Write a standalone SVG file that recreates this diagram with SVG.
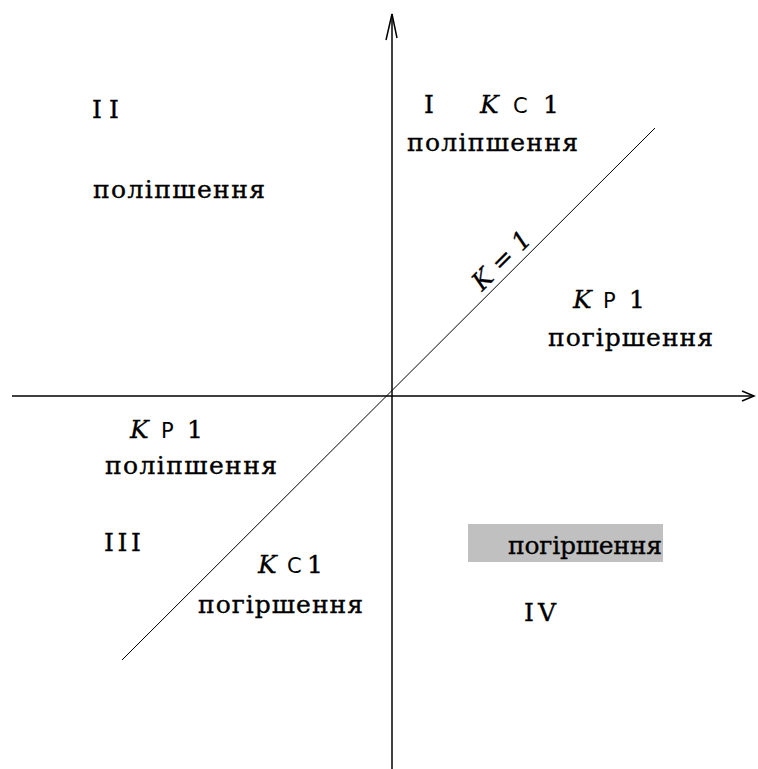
<svg xmlns="http://www.w3.org/2000/svg" width="758" height="769" viewBox="0 0 758 769">
<style>
.t{font-family:"DejaVu Serif","Liberation Serif",serif;font-size:25px;fill:#000;stroke:#000;stroke-width:0.35}
.k{font-family:"DejaVu Serif","Liberation Serif",serif;font-style:italic;font-size:25px;fill:#000;stroke:#000;stroke-width:0.3}
.s{font-family:"DejaVu Sans","Liberation Sans",sans-serif;font-size:21px;fill:#000}
.ax{stroke:#000;stroke-width:1.5;fill:none}
</style>
<rect width="758" height="769" fill="#fff"/>
<g id="connectors">
<line class="ax" x1="392" y1="769" x2="392" y2="14"/>
<polyline class="ax" points="386,40 392,14 397,38"/>
<line class="ax" x1="12" y1="396" x2="754" y2="396"/>
<polyline class="ax" points="742,391 754,396 742,401"/>
<line stroke="#000" stroke-width="1" x1="122" y1="660" x2="655" y2="128"/>
</g>
<g id="q2">
<text class="t" x="92" y="118" textLength="27">II</text>
<text class="t" x="93" y="198" textLength="172">поліпшення</text>
</g>
<g id="q1">
<text class="t" x="424" y="113">I</text>
<text class="k" x="480" y="113">K</text>
<text class="s" x="513" y="113">С</text>
<text class="t" x="543" y="113">1</text>
<text class="t" x="407" y="151" textLength="171">поліпшення</text>
</g>
<g id="k1">
<text class="k" transform="translate(482,292) rotate(-45)" textLength="72">K = 1</text>
</g>
<g id="q1b">
<text class="k" x="573" y="308">K</text>
<text class="s" x="603" y="308">Р</text>
<text class="t" x="629" y="308">1</text>
<text class="t" x="548" y="346" textLength="165">погіршення</text>
</g>
<g id="q3a">
<text class="k" x="130" y="438">K</text>
<text class="s" x="161" y="438">Р</text>
<text class="t" x="187" y="438">1</text>
<text class="t" x="105" y="474" textLength="172">поліпшення</text>
</g>
<g id="q3">
<text class="t" x="104" y="551" textLength="37">III</text>
</g>
<g id="q3b">
<text class="k" x="258" y="573">K</text>
<text class="s" x="287" y="573">С</text>
<text class="t" x="307" y="573">1</text>
<text class="t" x="198" y="613" textLength="165">погіршення</text>
</g>
<g id="q4">
<rect x="468" y="524" width="195" height="38" fill="#c0c0c0"/>
<text class="t" x="508" y="554" textLength="154">погіршення</text>
<text class="t" x="524" y="621" textLength="32">IV</text>
</g>
</svg>
